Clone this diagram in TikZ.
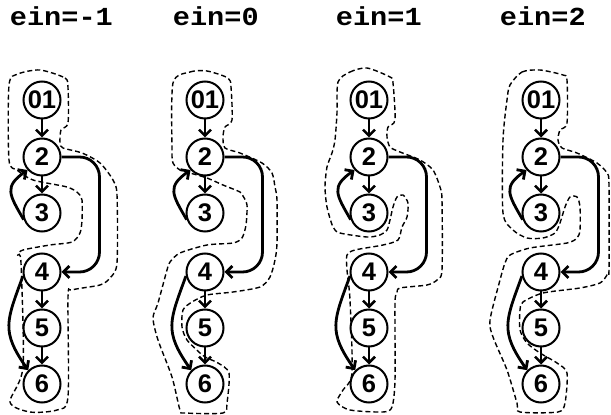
\documentclass[tikz,border=0pt]{standalone}
\usepackage{fontspec}
\usetikzlibrary{arrows.meta,calc}
\newfontfamily\titlefont{Liberation Mono}
\newfontfamily\vtxfont{Liberation Sans}
\begin{document}
\begin{tikzpicture}[x=1pt,y=1pt,
  vtx/.style={circle, draw, fill=white, line width=2pt, minimum size=37pt, inner sep=0pt,
    font=\vtxfont\bfseries\fontsize{25.5}{25.5}\selectfont},
  edge/.style={line width=2.5pt, -{Straight Barb[length=6pt,width=12pt]}},
  bendedge/.style={edge, line width=2.8pt},
  region/.style={dash pattern=on 5pt off 3pt, line width=1.4pt},
  title/.style={anchor=base west, xscale=1.1, font=\titlefont\bfseries\fontsize{26}{26}\selectfont}]
\useasboundingbox (0,0) rectangle (611,415);

% titles
\node[title] (t1) at (6,389) {ein=-1};
\node[title] (t2) at (169,389) {ein=0};
\node[title] (t3) at (332,389) {ein=1};
\node[title] (t4) at (496,389) {ein=2};

% regions
\draw[region] plot[smooth cycle, tension=0.45] coordinates {
(40,345) (65,337) (68,327) (68,292) (61,285) (60,272) (63,267) (82,262) (100,252) (113,235)
(117,220) (117,152) (110,137) (100,130) (72,125) (68,118) (68,18) (57,5) (30,3) (10,13)
(23,48) (21,152) (18,160) (23,165) (50,170) (72,173) (80,182) (82,195) (82,215) (78,222)
(67,228) (33,235) (17,245) (9,255) (9,330) (18,341)};

\draw[region] plot[smooth cycle, tension=0.45] coordinates {
(173,332) (190,343) (207,344) (228,337) (231,328) (232,295) (225,288) (223,278) (225,267)
(240,262) (262,252) (272,242) (275,228) (277,215) (277,172) (275,155) (270,138) (260,128)
(233,123) (207,120) (192,113) (183,105) (182,88) (187,75) (200,62) (207,57) (218,52)
(229,42) (227,12) (223,2) (185,2) (180,5) (172,38) (158,75) (153,97) (158,112) (167,145)
(170,153) (180,162) (207,170) (233,172) (242,177) (246,190) (247,210) (243,219) (240,223)
(223,230) (207,237) (190,242) (180,245) (173,252) (172,265)};

\draw[region] plot[smooth cycle, tension=0.45] coordinates {
(338,333) (350,343) (367,347) (390,338) (393,332) (395,295) (388,288) (387,278) (390,268)
(400,263) (420,255) (433,245) (440,228) (442,215) (442,145) (437,135) (427,130) (400,127)
(397,122) (395,112) (395,35) (392,8) (383,3) (350,5) (337,13) (343,25) (352,42) (350,115)
(347,145) (347,160) (355,165) (383,170) (398,175) (402,188) (407,198) (408,212) (403,220)
(397,218) (393,208) (390,195) (387,185) (380,180) (367,178) (340,182) (333,188) (327,208)
(325,228) (327,248) (332,262) (335,275) (337,302)};

\draw[region] plot[smooth cycle, tension=0.45] coordinates {
(510,330) (522,343) (540,345) (563,340) (567,335) (567,292) (560,285) (558,275) (562,267)
(577,262) (597,252) (607,242) (609,230) (609,145) (607,140) (600,132) (580,127) (543,122)
(523,113) (520,105) (520,85) (527,72) (540,62) (557,52) (567,42) (565,12) (558,3) (520,3)
(517,12) (507,45) (493,78) (490,95) (500,135) (505,152) (510,160) (530,167) (567,172)
(577,177) (580,185) (580,208) (577,218) (570,218) (565,208) (560,192) (555,182) (543,177)
(527,177) (513,185) (503,202) (503,275) (507,315)};

% graphs
\foreach \g/\x in {1/42, 2/205, 3/369, 4/541} {
  \node[vtx] (a\g) at (\x,315) {01};
  \node[vtx] (b\g) at (\x,258) {2};
  \node[vtx] (c\g) at (\x,202) {3};
  \node[vtx] (d\g) at (\x,143) {4};
  \node[vtx] (e\g) at (\x,87) {5};
  \node[vtx] (f\g) at (\x,31) {6};
  \draw[edge] (a\g) -- (b\g);
  \draw[edge] (b\g) -- (c\g);
  \draw[edge] (d\g) -- (e\g);
  \draw[edge] (e\g) -- (f\g);
  \draw[bendedge] (c\g.200) to[out=120,in=215,looseness=1.5] (b\g.222);
  \draw[bendedge, rounded corners=20pt] (b\g.east) -| ($(d\g.east)+(38,0)$) -- (d\g.east);
  \draw[bendedge] (d\g.192) to[out=250,in=125,looseness=1.3] (f\g.135);
}
\end{tikzpicture}
\end{document}
